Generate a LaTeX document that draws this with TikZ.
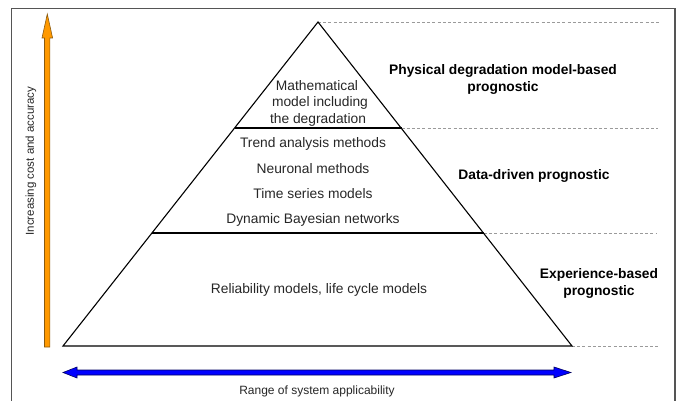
\documentclass[tikz,border=0pt]{standalone}
\usepackage{fontspec}
\setmainfont{Liberation Sans}
\definecolor{arrorange}{HTML}{FF9900}
\definecolor{arrorangeline}{HTML}{8A5A10}
\definecolor{arrblue}{HTML}{0000FF}
\definecolor{arrblueline}{HTML}{000060}
\definecolor{framegray}{HTML}{555555}
\definecolor{dashgray}{HTML}{9A9A9A}
\tikzset{
  pyr/.style={draw=black, line width=1.1pt, line join=miter},
  layer/.style={draw=black, line width=1.5pt},
  guide/.style={draw=dashgray, line width=0.9pt, dash pattern=on 3pt off 2.2pt},
  inner/.style={font=\fontsize{13.8}{16.5}\selectfont, text=black!85, align=center, inner sep=0pt},
  side/.style={font=\fontsize{13.8}{16.5}\selectfont\bfseries, align=center, inner sep=0pt},
}
\begin{document}
\begin{tikzpicture}[x=1pt,y=-1pt]
\useasboundingbox (0,0) rectangle (682,401);
% frame
\draw[framegray, line width=1.6pt] (11.5,440) -- (11.5,8.5) -- (675,8.5) -- (675,440);
% pyramid coordinates
\coordinate (apex) at (318,22);
\coordinate (bl) at (63,346);
\coordinate (br) at (572,346);
\coordinate (l1a) at (234.5,128);
\coordinate (l1b) at (401.5,128);
\coordinate (l2a) at (152,233);
\coordinate (l2b) at (484,233);
\coordinate (g0) at (660,22);
\coordinate (g1) at (658,128);
\coordinate (g2) at (656,233);
\coordinate (g3) at (660,346);
% guides
\draw[guide] (apex) -- (g0);
\draw[guide] (l1b) -- (g1);
\draw[guide] (l2b) -- (g2);
\draw[guide] (br) -- (g3);
% pyramid
\draw[pyr] (bl) -- (apex) -- (br) -- cycle;
\draw[layer] (l1a) -- (l1b);
\draw[layer] (l2a) -- (l2b);
% orange arrow
\fill[arrorange, draw=arrorangeline, line width=0.6pt, line join=miter]
  (44.5,347) -- (44.5,38) -- (42,38) -- (47.3,14) -- (52.6,38) -- (49.8,38) -- (49.8,347) -- cycle;
% blue arrow
\fill[arrblue, draw=arrblueline, line width=0.6pt, line join=miter]
  (63,372.5) -- (77,367) -- (77,370) -- (554,370) -- (554,367) -- (571,372.5) -- (554,378) -- (554,375) -- (77,375) -- (77,378) -- cycle;
% texts inside pyramid
\node[inner] (m1) at (317,86) {Mathematical};
\node[inner] (m2) at (320,103) {model including};
\node[inner] (m3) at (318,119.5) {the degradation};
\node[inner] (t1) at (313,144) {Trend analysis methods};
\node[inner] (t2) at (313,169) {Neuronal methods};
\node[inner] (t3) at (313,194) {Time series models};
\node[inner] (t4) at (313,220) {Dynamic Bayesian networks};
\node[inner] (t5) at (319,290) {Reliability models, life cycle models};
% side labels
\node[side] (s1) at (503,79.5) {Physical degradation model-based\\prognostic};
\node[side] (s2) at (534,176) {Data-driven prognostic};
\node[side] (s3) at (599,283.5) {Experience-based\\prognostic};
% axis labels
\node[font=\fontsize{11.5}{13}\selectfont, text=black!85, rotate=90, inner sep=0pt] (yl) at (31,161) {Increasing cost and accuracy};
\node[font=\fontsize{12}{14}\selectfont, text=black!85, inner sep=0pt] (xl) at (317,391) {Range of system applicability};
\end{tikzpicture}
\end{document}
